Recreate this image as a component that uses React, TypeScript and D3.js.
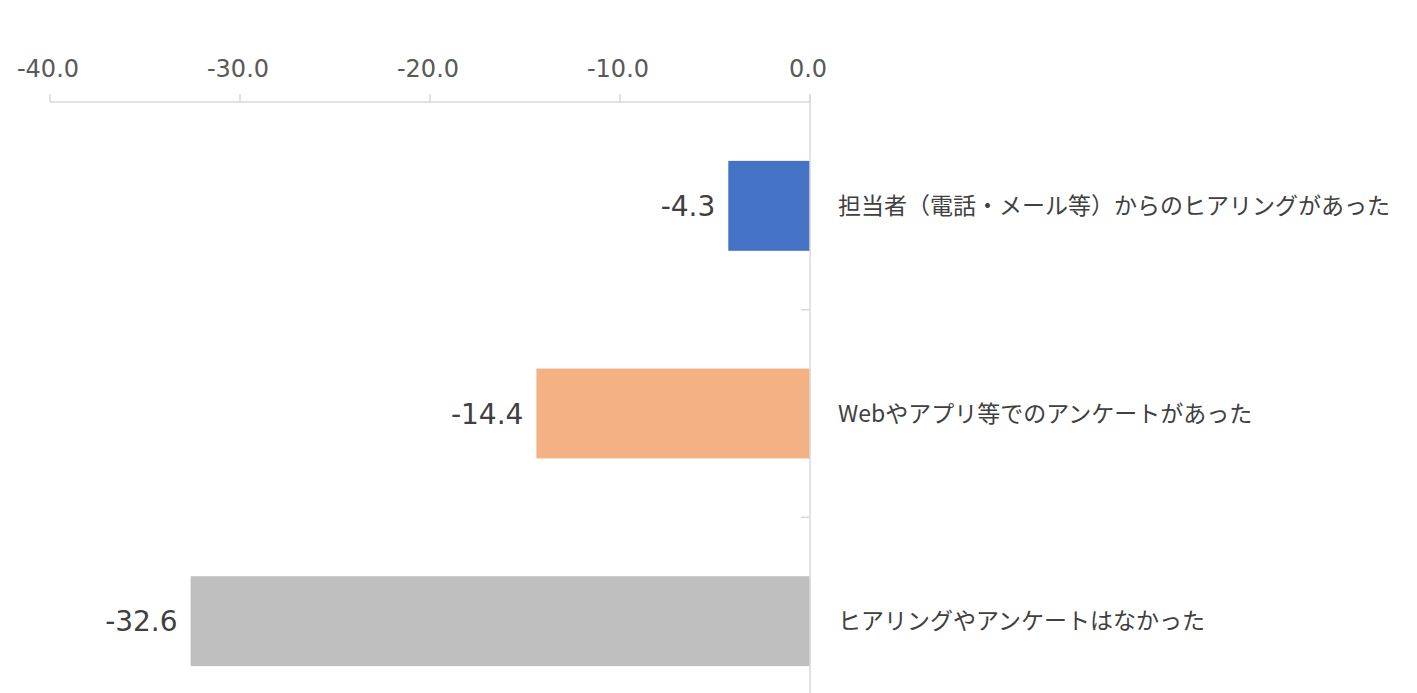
import React from "react";
import * as d3 from "d3";

const categories = [
  "担当者（電話・メール等）からのヒアリングがあった",
  "Webやアプリ等でのアンケートがあった",
  "ヒアリングやアンケートはなかった",
];
const values = [-4.3, -14.4, -32.6];
const barColors = ["#4472C4", "#F4B183", "#BFBFBF"];
const tickValues = [-40, -30, -20, -10, 0];

const width = 1417;
const height = 693;
const axisY = 102;
const plotBottom = 725;
const padding = 0.567;

export default function App() {
  const x = d3.scaleLinear().domain([-40, 0]).range([50, 810]);
  const y = d3
    .scaleBand<string>()
    .domain(categories)
    .range([axisY, plotBottom])
    .paddingInner(padding)
    .paddingOuter(padding / 2);

  const zeroX = x(0);
  const step = y.step();
  const numFont = '"DejaVu Sans", Verdana, sans-serif';
  const jpFont = '"Noto Sans CJK JP", "Noto Sans", sans-serif';

  return (
    <div style={{ position: "absolute", left: 0, top: 0 }}>
      <svg width={width} height={height} viewBox={`0 0 ${width} ${height}`}>
        <rect width={width} height={height} fill="#fff" />

        {/* top value axis */}
        <line x1={x(-40)} x2={zeroX} y1={axisY} y2={axisY} stroke="#D9D9D9" strokeWidth={1.5} />
        {tickValues.map((t) => (
          <g key={t}>
            <line x1={x(t)} x2={x(t)} y1={axisY - 8} y2={axisY} stroke="#D9D9D9" strokeWidth={1.5} />
            <text
              x={x(t) - 2}
              y={77}
              textAnchor="middle"
              fill="#595959"
              fontSize={24}
              fontFamily={numFont}
            >
              {t.toFixed(1)}
            </text>
          </g>
        ))}

        {/* bars */}
        {categories.map((c, i) => (
          <rect
            key={c}
            x={x(values[i])}
            y={y(c)}
            width={zeroX - x(values[i])}
            height={y.bandwidth()}
            fill={barColors[i]}
          />
        ))}

        {/* category axis at zero */}
        <line x1={zeroX} x2={zeroX} y1={axisY - 8} y2={height} stroke="#D9D9D9" strokeWidth={1.5} />
        {categories.slice(1).map((c) => {
          const yy = (y(c) as number) - (step * padding) / 2;
          return (
            <line key={c} x1={zeroX - 9} x2={zeroX} y1={yy} y2={yy} stroke="#D9D9D9" strokeWidth={1.5} />
          );
        })}

        {/* value labels */}
        {categories.map((c, i) => (
          <text
            key={c}
            x={x(values[i]) - 13}
            y={(y(c) as number) + y.bandwidth() / 2}
            dy="0.36em"
            textAnchor="end"
            fill="#404040"
            fontSize={28}
            fontFamily={numFont}
          >
            {values[i].toFixed(1)}
          </text>
        ))}

        {/* category labels */}
        {categories.map((c) => (
          <text
            key={c}
            x={zeroX + 28}
            y={(y(c) as number) + y.bandwidth() / 2}
            dy="0.36em"
            fill="#404040"
            fontSize={23}
            fontFamily={jpFont}
          >
            {c}
          </text>
        ))}
      </svg>
    </div>
  );
}
